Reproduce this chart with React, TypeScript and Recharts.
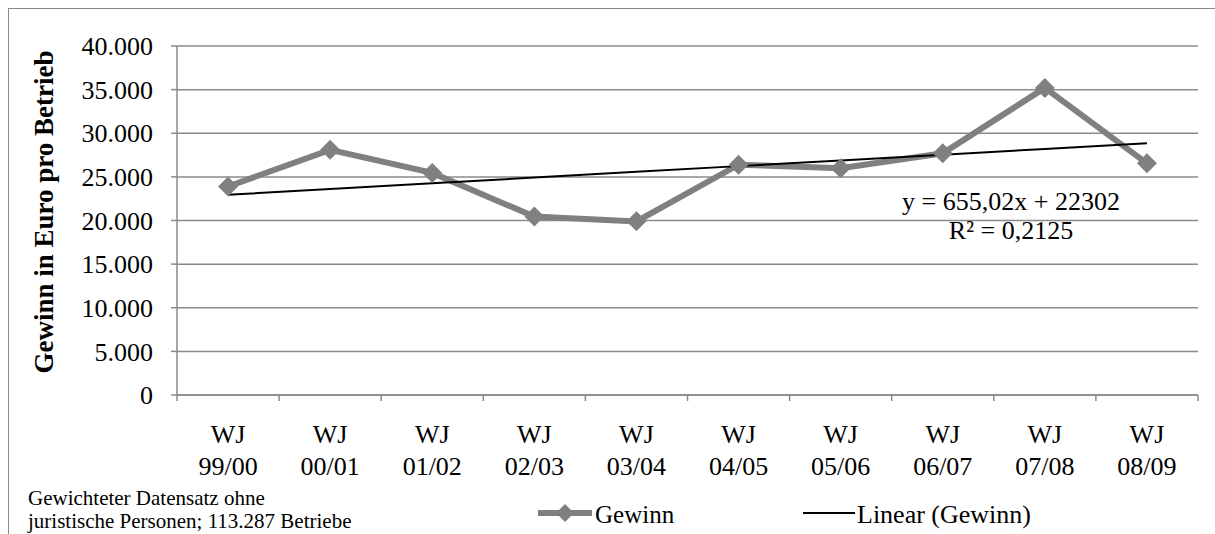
import { LineChart, Line, XAxis, YAxis, CartesianGrid } from 'recharts';

const categories = ['WJ 99/00', 'WJ 00/01', 'WJ 01/02', 'WJ 02/03', 'WJ 03/04', 'WJ 04/05', 'WJ 05/06', 'WJ 06/07', 'WJ 07/08', 'WJ 08/09'];
const gewinn = [23900, 28100, 25450, 20450, 19900, 26400, 26000, 27700, 35200, 26550];
// Linear (Gewinn): y = 655,02x + 22302
const trend = [22957, 23612, 24267, 24922, 25577, 26232, 26887, 27542, 28197, 28852];
const yTicks = [0, 5000, 10000, 15000, 20000, 25000, 30000, 35000, 40000];

const data = categories.map((c, i) => ({ name: c, gewinn: gewinn[i], trend: trend[i] }));

const W = 1215;
const H = 534;
const FONT = '"Liberation Serif", "Times New Roman", serif';
const GRID = '#8a8a8a';
const LEFT = 177;
const RIGHT = 17;
const PLOT_BOTTOM = 395;
const BAND = (W - LEFT - RIGHT) / categories.length;

const fmt = (v: number) => String(v).replace(/\B(?=(\d{3})+(?!\d))/g, '.');

function XTick({ x, payload, index }: any) {
  const [a, b] = String(payload.value).split(' ');
  const left = x - BAND / 2;
  return (
    <g>
      <line x1={left} x2={left} y1={PLOT_BOTTOM} y2={PLOT_BOTTOM + 6} stroke={GRID} strokeWidth={1.5} />
      {index === categories.length - 1 && (
        <line x1={x + BAND / 2} x2={x + BAND / 2} y1={PLOT_BOTTOM} y2={PLOT_BOTTOM + 6} stroke={GRID} strokeWidth={1.5} />
      )}
      <text x={x} y={443} textAnchor="middle" fontSize={26} fontFamily={FONT} fill="#000">{a}</text>
      <text x={x} y={475} textAnchor="middle" fontSize={26} fontFamily={FONT} fill="#000">{b}</text>
    </g>
  );
}

function YLabel() {
  return (
    <text x={53} y={212} transform="rotate(-90, 53, 212)" textAnchor="middle" fontSize={27} fontWeight="bold" fontFamily={FONT} fill="#000">
      Gewinn in Euro pro Betrieb
    </text>
  );
}

function renderDiamond(props: any) {
  const { cx, cy, index } = props;
  const s = 10;
  return <path key={`d-${index}`} d={`M${cx},${cy - s}L${cx + s},${cy}L${cx},${cy + s}L${cx - s},${cy}Z`} fill="#808080" />;
}

export default function App() {
  return (
    <div style={{ position: 'absolute', left: 0, top: 0, width: W, height: H, background: '#fff', overflow: 'hidden' }}>
      <div style={{ position: 'absolute', left: 8, top: 8, width: 1220, height: 540, border: '1.5px solid #8a8a8a', boxSizing: 'border-box' }} />
      <div style={{ position: 'absolute', left: 0, top: 0 }}>
        <LineChart width={W} height={H} data={data} margin={{ top: 46, right: RIGHT, bottom: 5, left: 0 }}>
          <CartesianGrid vertical={false} stroke={GRID} strokeWidth={1.5} />
          <XAxis
            dataKey="name"
            scale="band"
            height={134}
            interval={0}
            axisLine={{ stroke: GRID, strokeWidth: 1.5 }}
            tickLine={false}
            tick={<XTick />}
          />
          <YAxis
            width={LEFT}
            domain={[0, 40000]}
            ticks={yTicks}
            tickFormatter={fmt}
            axisLine={{ stroke: GRID, strokeWidth: 1.5 }}
            tickLine={{ stroke: GRID, strokeWidth: 1.5 }}
            tickSize={6}
            tickMargin={18}
            tick={{ fontSize: 26, fontFamily: FONT, fill: '#000' }}
            label={<YLabel />}
          />
          <Line
            type="linear"
            dataKey="gewinn"
            stroke="#808080"
            strokeWidth={6}
            dot={renderDiamond}
            activeDot={false}
            isAnimationActive={false}
          />
          <Line
            type="linear"
            dataKey="trend"
            stroke="#000"
            strokeWidth={2}
            dot={false}
            activeDot={false}
            isAnimationActive={false}
          />
        </LineChart>
      </div>
      <svg width={W} height={H} style={{ position: 'absolute', left: 0, top: 0, pointerEvents: 'none' }}>
        <g fontFamily={FONT} fill="#000">
          <text x={1011} y={210} textAnchor="middle" fontSize={26}>y = 655,02x + 22302</text>
          <text x={1011} y={239} textAnchor="middle" fontSize={26}>R² = 0,2125</text>
          <text x={28} y={505} fontSize={21}>Gewichteter Datensatz ohne</text>
          <text x={28} y={528} fontSize={21}>juristische Personen; 113.287 Betriebe</text>
          <line x1={538} x2={592} y1={513} y2={513} stroke="#808080" strokeWidth={6} />
          <path d="M565,504L574,513L565,522L556,513Z" fill="#808080" />
          <text x={595} y={523} fontSize={25}>Gewinn</text>
          <line x1={803} x2={855} y1={513} y2={513} stroke="#000" strokeWidth={2} />
          <text x={857} y={523} fontSize={26}>Linear (Gewinn)</text>
        </g>
      </svg>
    </div>
  );
}
